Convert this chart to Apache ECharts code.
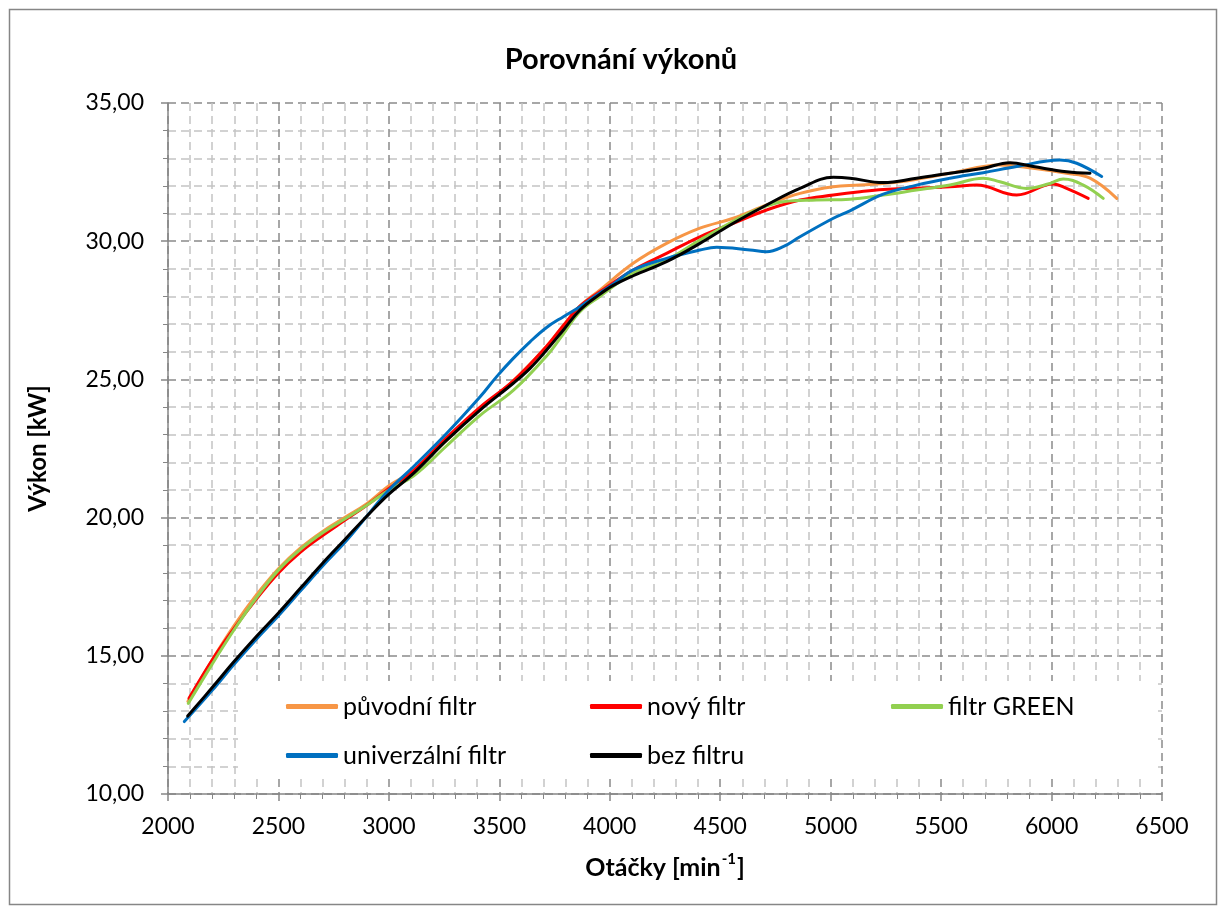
<!DOCTYPE html>
<html><head><meta charset="utf-8">
<script src="https://cdn.jsdelivr.net/npm/echarts@6/dist/echarts.min.js"></script>
<style>html,body{margin:0;padding:0;background:#fff}#c{width:1226px;height:914px}</style>
</head><body><div id="c"></div>
<script>
const titleText = 'Porovnání výkonů';
const seriesNames = ['původní filtr', 'nový filtr', 'filtr GREEN', 'univerzální filtr', 'bez filtru'];
const seriesColors = ['#F79646', '#FF0000', '#92D050', '#0070C0', '#000000'];

const puvodniFiltr = [[2090,13.35],[2200,14.85],[2300,16.1],[2400,17.2],[2500,18.15],[2600,18.9],[2700,19.5],[2800,20.0],[2900,20.5],[3000,21.15],[3111,21.7],[3262,22.8],[3413,23.95],[3563,24.95],[3714,26.2],[3790,26.95],[3865,27.65],[3955,28.23],[4106,29.2],[4257,29.92],[4408,30.47],[4559,30.83],[4710,31.31],[4861,31.73],[5012,31.97],[5133,32.03],[5314,32.15],[5540,32.46],[5766,32.76],[5917,32.64],[6068,32.46],[6174,32.28],[6295,31.55]];
const novyFiltr = [[2095,13.46],[2200,14.85],[2300,16.0],[2400,17.05],[2500,18.0],[2600,18.75],[2700,19.35],[2800,19.9],[2900,20.45],[3000,21.05],[3111,21.7],[3262,22.9],[3413,24.0],[3563,24.95],[3714,26.2],[3790,26.95],[3865,27.65],[3955,28.17],[4106,28.96],[4257,29.56],[4408,30.16],[4559,30.65],[4710,31.13],[4861,31.49],[5012,31.67],[5133,31.79],[5238,31.87],[5389,31.92],[5540,31.97],[5661,32.03],[5842,31.67],[6008,32.07],[6068,31.91],[6166,31.55]];
const filtrGreen = [[2092,13.28],[2200,14.7],[2300,15.95],[2400,17.1],[2500,18.1],[2600,18.85],[2700,19.45],[2800,19.95],[2900,20.45],[3000,21.0],[3111,21.5],[3262,22.6],[3413,23.7],[3563,24.6],[3714,25.85],[3790,26.65],[3865,27.45],[3955,28.0],[4106,28.84],[4257,29.32],[4408,30.04],[4559,30.72],[4680,31.19],[4785,31.43],[4936,31.49],[5087,31.52],[5238,31.67],[5389,31.85],[5540,32.03],[5691,32.28],[5766,32.15],[5887,31.91],[5993,32.09],[6053,32.25],[6144,32.03],[6234,31.55]];
const univerzalniFiltr = [[2074,12.62],[2200,13.75],[2300,14.7],[2400,15.6],[2500,16.45],[2600,17.35],[2700,18.25],[2800,19.1],[2900,20.05],[3000,21.0],[3111,21.84],[3262,23.05],[3413,24.37],[3488,25.1],[3563,25.76],[3639,26.36],[3714,26.88],[3790,27.27],[3865,27.63],[3941,28.05],[4016,28.45],[4106,28.96],[4257,29.38],[4408,29.68],[4484,29.78],[4635,29.68],[4710,29.62],[4785,29.8],[4861,30.16],[5012,30.83],[5087,31.1],[5238,31.7],[5389,32.03],[5540,32.28],[5691,32.48],[5842,32.7],[6038,32.94],[6114,32.82],[6227,32.34]];
const bezFiltru = [[2089,12.82],[2200,13.85],[2300,14.8],[2400,15.7],[2500,16.55],[2600,17.45],[2700,18.35],[2800,19.2],[2900,20.05],[3000,20.85],[3111,21.6],[3262,22.8],[3413,23.89],[3563,24.86],[3639,25.4],[3714,26.06],[3790,26.79],[3865,27.51],[3950,28.05],[4016,28.4],[4106,28.75],[4257,29.26],[4408,29.92],[4559,30.65],[4710,31.31],[4861,31.91],[5012,32.31],[5087,32.28],[5238,32.12],[5389,32.28],[5540,32.46],[5691,32.64],[5812,32.84],[5917,32.7],[6068,32.51],[6174,32.46]];

const xMin = 2000, xMax = 6500, xStep = 500;
const yMin = 10, yMax = 35, yStep = 5;

const allData = [puvodniFiltr, novyFiltr, filtrGreen, univerzalniFiltr, bezFiltru];
const FONT = 'Lato, "Noto Sans", sans-serif';

const chart = echarts.init(document.getElementById('c'), null, {renderer: 'canvas'});

const majorLine = {show: true, lineStyle: {color: '#8a8a8a', width: 1.5, type: [8, 5]}};
const minorLine = {show: true, lineStyle: {color: '#c4c4c4', width: 1.5, type: [8, 5]}};

const legendBase = {
  orient: 'vertical', icon: 'roundRect', itemWidth: 52, itemHeight: 5, itemGap: 24,
  textStyle: {fontFamily: FONT, fontSize: 25, color: '#000'}, selectedMode: false
};

chart.setOption({
  animation: false,
  backgroundColor: '#fff',
  title: {text: titleText, left: 616, top: 40, textAlign: 'center',
    textStyle: {fontFamily: FONT, fontSize: 29, fontWeight: 'bold', color: '#000'}},
  grid: {left: 168, right: 64, top: 103, bottom: 120, containLabel: false},
  graphic: [
    {type: 'rect', z: -10, shape: {x: 9.5, y: 9.5, width: 1207, height: 895}, style: {fill: '#fff', stroke: '#868686', lineWidth: 1.5}},
    {type: 'rect', z: 1, zlevel: 0, shape: {x: 238, y: 681, width: 920, height: 98}, style: {fill: '#fff'}}
  ],
  legend: [
    Object.assign({}, legendBase, {left: 281, top: 689, data: [seriesNames[0], seriesNames[3]]}),
    Object.assign({}, legendBase, {left: 585, top: 689, data: [seriesNames[1], seriesNames[4]]}),
    Object.assign({}, legendBase, {left: 886, top: 689, data: [seriesNames[2]]})
  ],
  xAxis: {
    type: 'value', min: xMin, max: xMax, interval: xStep,
    name: '{b|Otáčky [min}{s|-1}{b|]}', nameLocation: 'middle', nameGap: 58,
    nameTextStyle: {rich: {
      b: {fontFamily: FONT, fontSize: 25, fontWeight: 'bold', color: '#000', lineHeight: 28, verticalAlign: 'bottom'},
      s: {fontFamily: FONT, fontSize: 15, fontWeight: 'bold', color: '#000', lineHeight: 28, verticalAlign: 'top', padding: [0, 1, 12, 1]}
    }},
    axisLine: {show: true, lineStyle: {color: '#868686', width: 1.5}},
    axisTick: {show: true, length: 7, lineStyle: {color: '#868686', width: 1.5}},
    minorTick: {show: true, splitNumber: 5, length: 5, lineStyle: {color: '#868686', width: 1}},
    axisLabel: {fontFamily: FONT, fontSize: 23, color: '#000', margin: 21,
      formatter: v => String(v)},
    splitLine: majorLine,
    minorSplitLine: minorLine
  },
  yAxis: {
    type: 'value', min: yMin, max: yMax, interval: yStep,
    name: 'Výkon [kW]', nameLocation: 'middle', nameGap: 118, nameRotate: 90,
    nameTextStyle: {fontFamily: FONT, fontSize: 24, fontWeight: 'bold', color: '#000'},
    axisLine: {show: true, lineStyle: {color: '#868686', width: 1.5}},
    axisTick: {show: true, length: 7, lineStyle: {color: '#868686', width: 1.5}},
    minorTick: {show: true, splitNumber: 5, length: 5, lineStyle: {color: '#868686', width: 1}},
    axisLabel: {fontFamily: FONT, fontSize: 23, color: '#000', margin: 24,
      formatter: v => v.toFixed(2).replace('.', ',')},
    splitLine: majorLine,
    minorSplitLine: minorLine
  },
  series: seriesNames.map((n, i) => ({
    name: n, type: 'line', data: allData[i], smooth: 0.4, showSymbol: false, symbol: 'none',
    color: seriesColors[i], z: 3 + i,
    lineStyle: {color: seriesColors[i], width: 3, cap: 'round'}
  }))
});
</script></body></html>
